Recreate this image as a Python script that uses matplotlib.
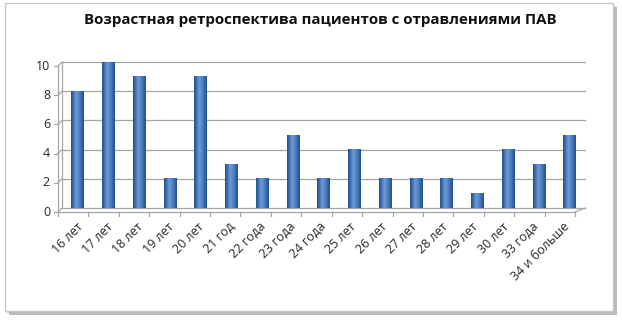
import matplotlib
matplotlib.use('Agg')
import matplotlib.pyplot as plt
from matplotlib.patches import Rectangle
from matplotlib.colors import LinearSegmentedColormap
import numpy as np

# Data
categories = ['16 лет', '17 лет', '18 лет', '19 лет', '20 лет', '21 год', '22 года', '23 года',
              '24 года', '25 лет', '26 лет', '27 лет', '28 лет', '29 лет', '30 лет', '33 года',
              '34 и больше']
values = [8, 10, 9, 2, 9, 3, 2, 5, 2, 4, 2, 2, 2, 1, 4, 3, 5]
y_ticks = [0, 2, 4, 6, 8, 10]
title = 'Возрастная ретроспектива пациентов с отравлениями ПАВ'

W, H = 622, 324
fig = plt.figure(figsize=(W / 100, H / 100), dpi=100)
fig.patch.set_facecolor('white')

# background overlay in pixel coords (frame, 3D walls)
bg = fig.add_axes([0, 0, 1, 1], zorder=0)
bg.set_xlim(0, W)
bg.set_ylim(H, 0)
bg.axis('off')

# frame with shadow
bg.add_patch(Rectangle((9, 7), 608, 308, facecolor='#8c8c8c', edgecolor='none', alpha=0.6))
bg.add_patch(Rectangle((7, 5), 608, 308, facecolor='#b5b5b5', edgecolor='none', alpha=0.6))
bg.add_patch(Rectangle((5, 3), 608, 308, facecolor='white', edgecolor='#c8c8c8', linewidth=1))

# main axes: back wall from x=62..585 px, value 0 at y=208, 10 at y=62
left, right, y0, y10 = 62, 585, 208, 62
ax = fig.add_axes([left / W, (H - y0) / H, (right - left) / W, (y0 - y10) / H], zorder=1)
ax.patch.set_alpha(0)
n = len(categories)
x = np.arange(n)
ax.set_xlim(-0.5, n - 0.5)
ax.set_ylim(0, 10)
for s in ax.spines.values():
    s.set_visible(False)
ax.set_xticks([])
ax.set_yticks([])

grid_c = '#a6a6a6'
dx, dy = 4, 4  # 3D depth offset in px
for t in y_ticks:
    py = y0 - (y0 - y10) * t / 10
    bg.plot([left, right], [py, py], color=grid_c, lw=0.9)
    bg.plot([left - dx, left], [py + dy, py], color=grid_c, lw=0.9)
    bg.plot([left - dx - 4, left - dx], [py + dy, py + dy], color=grid_c, lw=0.9)
    bg.text(left - dx - 8, py + dy, str(t), ha='right', va='center', fontsize=9,
            family='Open Sans', color='#262626')
# left wall
bg.plot([left - dx, left - dx], [y10 + dy, y0 + dy], color=grid_c, lw=0.9)
bg.plot([left, left], [y10, y0], color=grid_c, lw=0.9)
# floor front edge and right side
front_right = right - 10
bg.plot([left - dx, front_right], [y0 + dy, y0 + dy], color=grid_c, lw=0.9)
bg.plot([front_right, right], [y0 + dy, y0], color=grid_c, lw=0.9)
step = (front_right - (left - dx)) / n
for i in range(n + 1):
    tx = left - dx + i * step
    bg.plot([tx, tx], [y0 + dy, y0 + dy + 4], color=grid_c, lw=0.9)

# bars with cylinder shading
cyl = LinearSegmentedColormap.from_list(
    'cyl', ['#244f85', '#3f74b5', '#6f9bd6', '#5687c8', '#3a6cab', '#24508a'])
grad = np.linspace(0, 1, 64).reshape(1, -1)
bw = 0.40
for xi, v in zip(x, values):
    ax.imshow(grad, cmap=cyl, aspect='auto', extent=[xi - bw / 2, xi + bw / 2, 0, v],
              zorder=3, interpolation='bilinear')
ax.set_xlim(-0.5, n - 0.5)
ax.set_ylim(0, 10)

# category labels
for i, lab in enumerate(categories):
    cx = left - dx + (i + 0.5) * step + 3
    bg.text(cx, y0 + dy + 8, lab, rotation=45, ha='right', va='top', rotation_mode='anchor',
            fontsize=9, family='Open Sans', color='#262626')

bg.text(320, 20, title, ha='center', va='center', fontsize=10.9, fontweight='bold',
        family='Open Sans', color='#111111')

fig.savefig('out.png', dpi=100)
